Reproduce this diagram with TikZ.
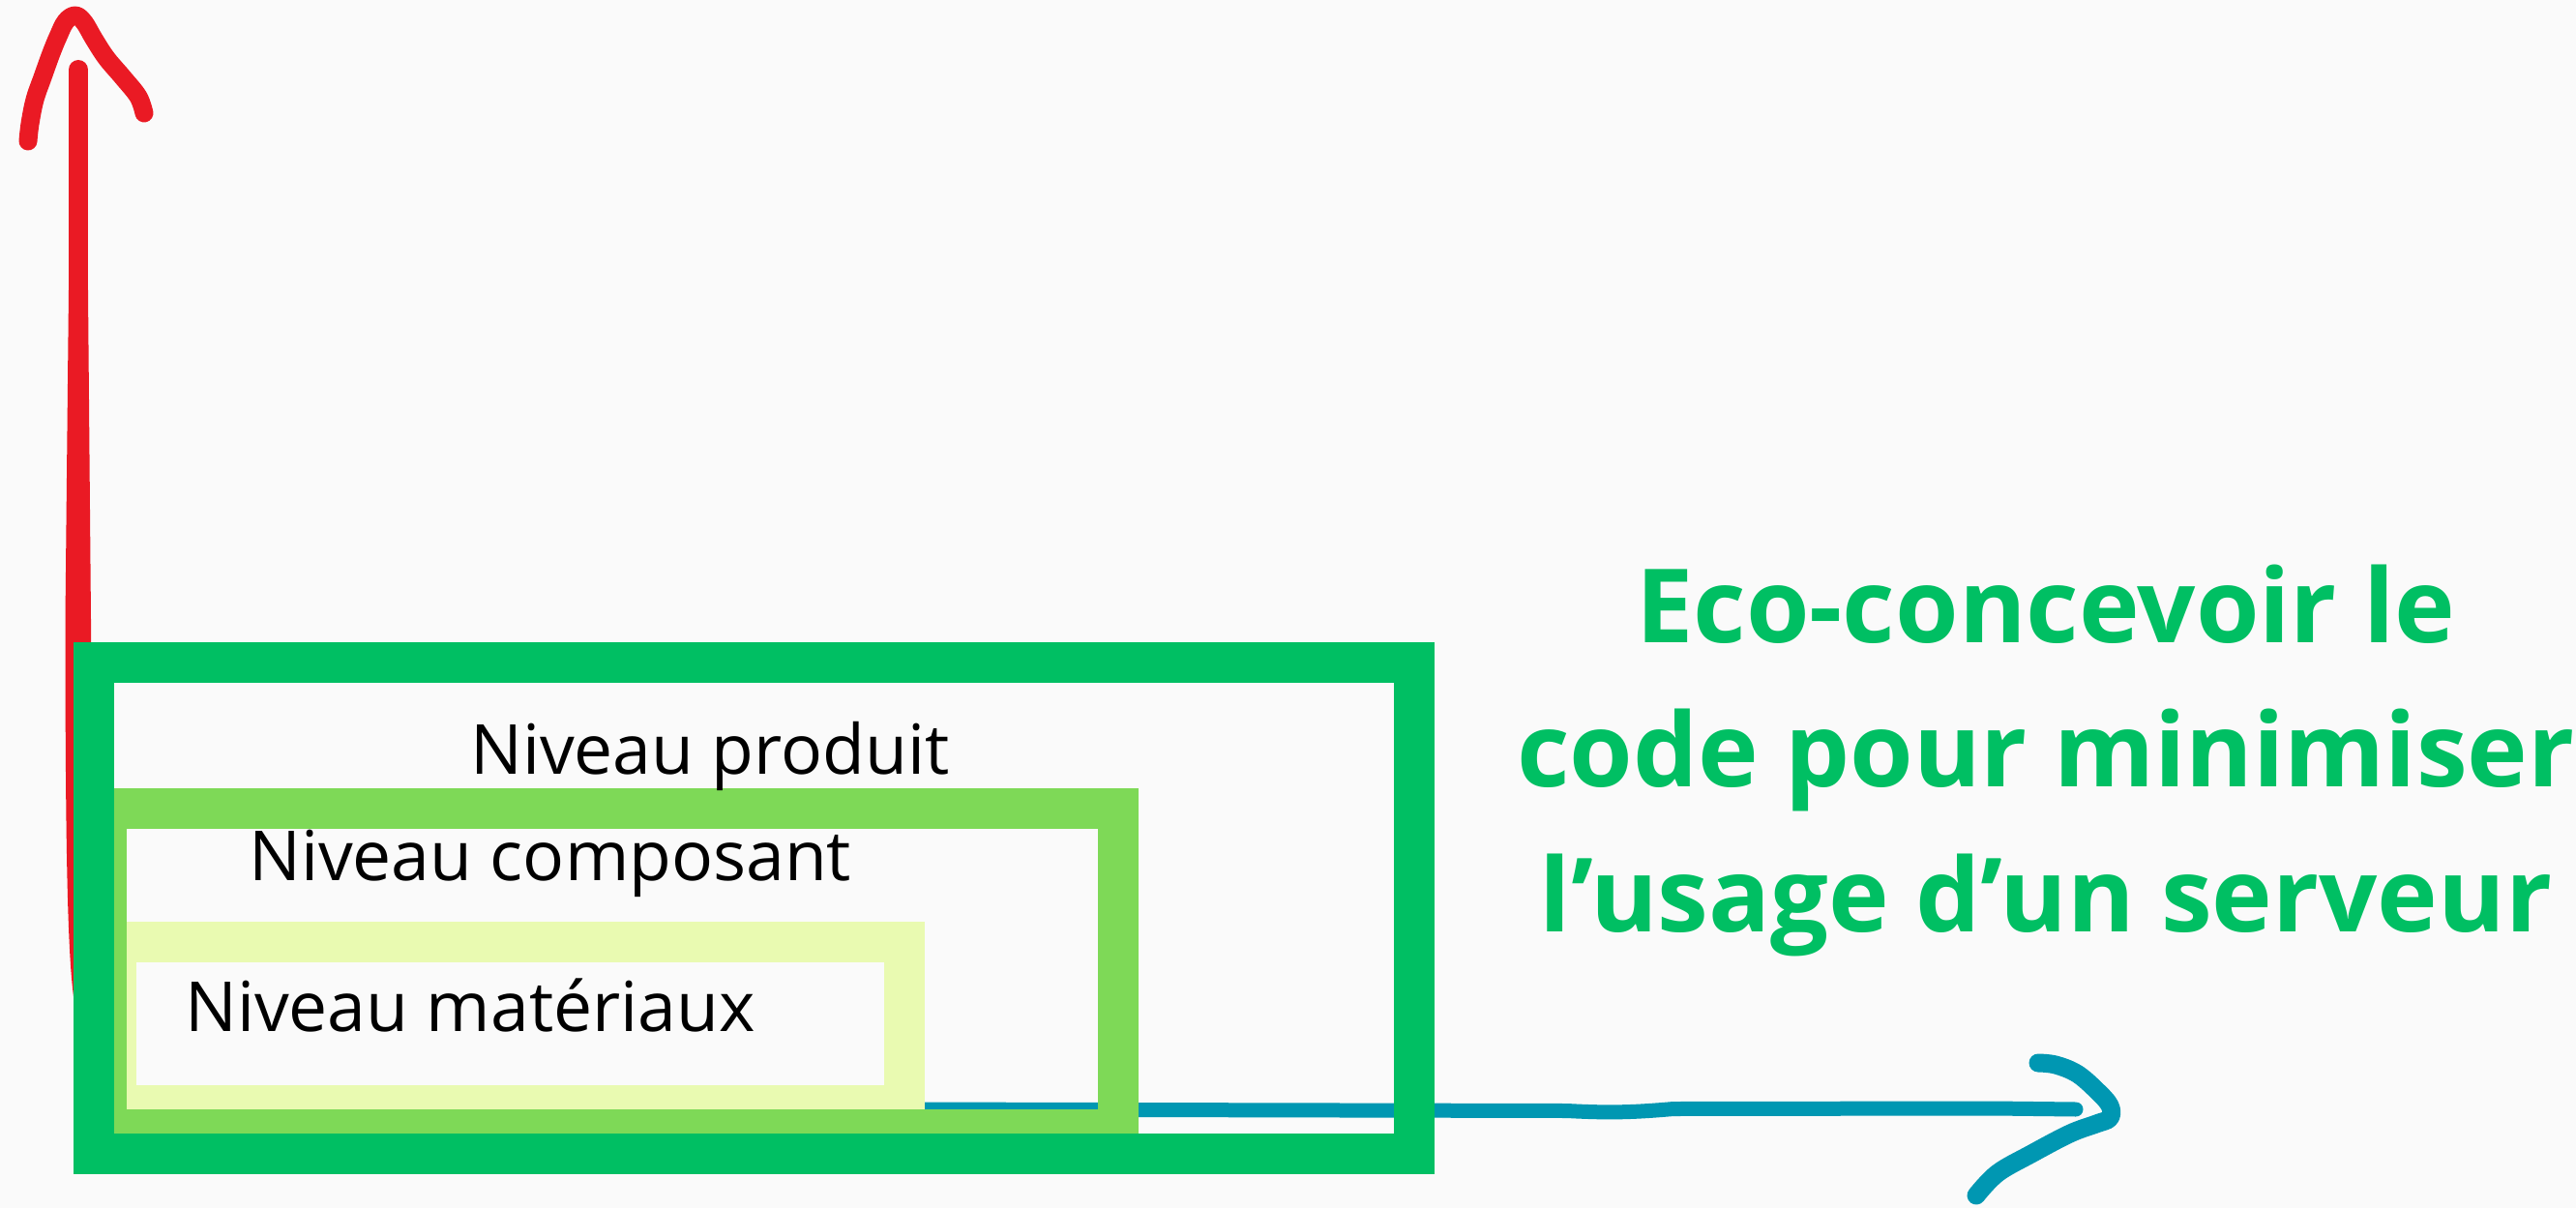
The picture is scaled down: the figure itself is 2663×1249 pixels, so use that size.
\documentclass[tikz,border=0pt]{standalone}
\usepackage{fontspec}
\newfontfamily\osans{Open Sans}
\definecolor{bgc}{HTML}{FAFAFA}
\definecolor{greenA}{HTML}{00BF63}
\definecolor{greenB}{HTML}{7ED957}
\definecolor{greenC}{HTML}{E9FAB1}
\definecolor{redc}{HTML}{EA1A24}
\definecolor{bluec}{HTML}{0097B2}
\tikzset{
  frame/.style={line width=42pt, line join=miter},
  handstroke/.style={line cap=round, line join=round},
  label/.style={inner sep=0pt, anchor=base west, text=black, font=\osans\fontsize{71.4}{80}\selectfont},
  title/.style={inner sep=0pt, anchor=base, text=greenA, font=\osans\bfseries\fontsize{106}{150}\selectfont}
}
\begin{document}
\begin{tikzpicture}[x=1pt,y=-1pt]
\fill[bgc] (0,0) rectangle (2663,1249);
\useasboundingbox (0,0) rectangle (2663,1249);
% coordinates
\coordinate (shaftS) at (930,1147);
\coordinate (shaftE) at (2146,1147);
\coordinate (vTop) at (81,72);
% blue axis
\draw[bluec, handstroke, line width=15pt] (shaftS) -- (1620,1148.5) .. controls (1665,1151) and (1690,1150) .. (1730,1146.5) -- (2060,1146) -- (shaftE);
\draw[bluec, handstroke, line width=19pt] plot[smooth, tension=0.6] coordinates {(2107,1099) (2125,1101) (2147,1110) (2167,1127) (2181,1143) (2181,1156) (2167,1162) (2140,1172) (2100,1193) (2065,1213) (2043,1236)};
% red axis
\draw[redc, line width=20pt, line cap=round] (vTop) -- (81,400);
\fill[redc] (71,300) -- (67.5,640) .. controls (67.5,880) and (70,985) .. (76,1030) -- (95,1030) -- (94,640) -- (91,300) -- cycle;
\draw[redc, handstroke, line width=19pt] plot[smooth, tension=0.6] coordinates {(29,146) (31,128) (36,103) (44,80) (53,55) (60,38) (68,22) (78,16) (87,23) (97,40) (110,60) (127,80) (143,100) (149,117)};
% boxes
\draw[frame, greenC] (120,974) rectangle (935,1143);
\draw[frame, greenB] (110,836) rectangle (1156,1168);
\draw[frame, greenA] (97,685) rectangle (1462,1193);
% labels
\node[label] (lp) at (486,800) {Niveau produit};
\node[label] (lc) at (257,910) {Niveau composant};
\node[label] (lm) at (191,1066) {Niveau matériaux};
% title
\node[title] (t1) at (2115,664) {Eco-concevoir le};
\node[title] (t2) at (2115,813) {code pour minimiser};
\node[title] (t3) at (2115,963) {l’usage d’un serveur};
\end{tikzpicture}
\end{document}
